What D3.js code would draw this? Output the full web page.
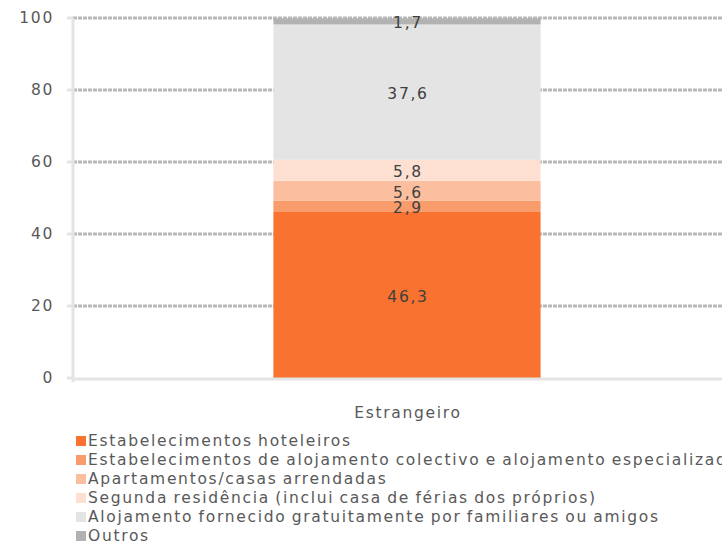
<!DOCTYPE html>
<html>
<head>
<meta charset="utf-8">
<style>
  body { margin: 0; background: #fff; }
  text { font-family: "DejaVu Sans", Verdana, sans-serif; font-size: 15.5px; letter-spacing: 1.7px; word-spacing: -1.3px; }
</style>
</head>
<body>
<div id="chart"></div>
<script src="https://cdn.jsdelivr.net/npm/d3@7"></script>
<script>
// Data
var categories = ["Estrangeiro"];
var seriesNames = [
  "Estabelecimentos hoteleiros",
  "Estabelecimentos de alojamento colectivo e alojamento especializado",
  "Apartamentos/casas arrendadas",
  "Segunda residência (inclui casa de férias dos próprios)",
  "Alojamento fornecido gratuitamente por familiares ou amigos",
  "Outros"
];
var seriesValues = [46.3, 2.9, 5.6, 5.8, 37.6, 1.7];
var seriesColors = ["#f9722f", "#f99c6c", "#fbbf9f", "#fde0d1", "#e4e4e4", "#b2b2b2"];
var yTicks = [0, 20, 40, 60, 80, 100];

var width = 722, height = 547;
var plot = {left: 73, right: 741, top: 18, bottom: 378};

var svg = d3.select("#chart").append("svg")
  .attr("width", width).attr("height", height);

var x = d3.scaleBand().domain(categories)
  .range([plot.left, plot.right]).paddingInner(0.6).paddingOuter(0.3);
var y = d3.scaleLinear().domain([0, 100]).range([plot.bottom, plot.top]);

// gridlines
svg.append("g").selectAll("line")
  .data(yTicks.filter(function(d) { return d > 0; }))
  .enter().append("line")
  .attr("x1", plot.left).attr("x2", width)
  .attr("y1", function(d) { return y(d); }).attr("y2", function(d) { return y(d); })
  .attr("stroke", "#b8b8b8").attr("stroke-width", 3)
  .attr("stroke-dasharray", "4,1");

// stacked segments
var stacked = [];
var acc = 0;
seriesValues.forEach(function(v, i) {
  stacked.push({name: seriesNames[i], value: v, y0: acc, y1: acc + v, color: seriesColors[i]});
  acc += v;
});

var barX = x(categories[0]);
var bw = x.bandwidth();

svg.append("g").selectAll("rect")
  .data(stacked).enter().append("rect")
  .attr("x", barX).attr("width", bw)
  .attr("y", function(d) { return y(d.y1); })
  .attr("height", function(d) { return y(d.y0) - y(d.y1); })
  .attr("fill", function(d) { return d.color; });

// labels (small segments sit close together, as in the original)
svg.append("g").selectAll("text")
  .data(stacked).enter().append("text")
  .attr("x", barX + bw / 2 + 1)
  .attr("y", function(d) { return y((d.y0 + d.y1) / 2) + 2; })
  .attr("text-anchor", "middle").attr("dominant-baseline", "central")
  .attr("fill", "#404040")
  .text(function(d) { return d3.format(".1f")(d.value).replace(".", ","); });

// y axis
svg.append("line")
  .attr("x1", plot.left).attr("x2", plot.left)
  .attr("y1", plot.top).attr("y2", plot.bottom + 4)
  .attr("stroke", "#e4e4e4").attr("stroke-width", 3);
svg.append("g").selectAll("line")
  .data(yTicks).enter().append("line")
  .attr("x1", plot.left - 6).attr("x2", plot.left)
  .attr("y1", function(d) { return y(d); }).attr("y2", function(d) { return y(d); })
  .attr("stroke", "#e4e4e4").attr("stroke-width", 3);
svg.append("g").selectAll("text")
  .data(yTicks).enter().append("text")
  .attr("x", 54).attr("y", function(d) { return y(d); })
  .attr("text-anchor", "end").attr("dominant-baseline", "central")
  .attr("fill", "#595959")
  .text(function(d) { return d; });

// x axis
svg.append("line")
  .attr("x1", plot.left).attr("x2", width)
  .attr("y1", plot.bottom + 1).attr("y2", plot.bottom + 1)
  .attr("stroke", "#e4e4e4").attr("stroke-width", 3);
svg.append("g").selectAll("text")
  .data(categories).enter().append("text")
  .attr("x", function(d) { return x(d) + bw / 2 + 1; }).attr("y", 413)
  .attr("text-anchor", "middle").attr("dominant-baseline", "central")
  .attr("fill", "#595959")
  .text(function(d) { return d; });

// legend
var legend = svg.append("g").selectAll("g")
  .data(stacked).enter().append("g")
  .attr("transform", function(d, i) { return "translate(76," + (441 + i * 19) + ")"; });
legend.append("rect")
  .attr("x", 0).attr("y", -5).attr("width", 10).attr("height", 10)
  .attr("fill", function(d) { return d.color; });
legend.append("text")
  .attr("x", 12).attr("y", 0).attr("dominant-baseline", "central")
  .attr("fill", "#595959")
  .text(function(d) { return d.name; });
</script>
</body>
</html>
